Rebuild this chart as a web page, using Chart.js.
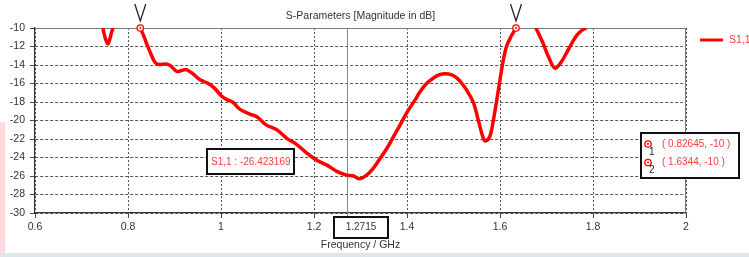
<!DOCTYPE html>
<html>
<head>
<meta charset="utf-8">
<script src="https://cdn.jsdelivr.net/npm/chart.js@4/dist/chart.umd.min.js"></script>
<style>
  html, body { margin: 0; padding: 0; background: #fff; }
  #wrap { position: relative; width: 749px; height: 257px; }
  canvas { display: block; }
</style>
</head>
<body>
<div id="wrap"><canvas id="c" width="749" height="257"></canvas></div>
<script>
// ---- data ----
const chartTitle = 'S-Parameters [Magnitude in dB]';
const xAxisTitle = 'Frequency / GHz';
const seriesName = 'S1,1';
const xTicks = [0.6, 0.8, 1, 1.2, 1.4, 1.6, 1.8, 2];
const yTicks = [-30, -28, -26, -24, -22, -20, -18, -16, -14, -12, -10];

// frequency (GHz) and |S11| (dB); null = curve above -10 dB (off the plot)
const freqGHz = [
  0.746, 0.750, 0.754, 0.757, 0.761, 0.765, 0.768,
  0.790,
  0.82645, 0.835, 0.840, 0.850, 0.858, 0.866, 0.882, 0.892, 0.905, 0.915, 0.925, 0.937,
  0.955, 0.973, 0.986, 1.001, 1.015, 1.025, 1.041, 1.062, 1.077, 1.098, 1.120, 1.141,
  1.163, 1.184, 1.206, 1.227, 1.249, 1.270, 1.285, 1.297, 1.313, 1.327, 1.342, 1.357,
  1.371, 1.385, 1.399, 1.417, 1.428, 1.442, 1.457, 1.470, 1.482, 1.495, 1.507, 1.518,
  1.528, 1.543, 1.553, 1.564, 1.569, 1.578, 1.586, 1.593, 1.600, 1.607, 1.614, 1.624,
  1.6344,
  1.655,
  1.677, 1.685, 1.693, 1.705, 1.718, 1.730, 1.743, 1.755, 1.765, 1.776, 1.786
];
const s11dB = [
  -10.0, -10.9, -11.5, -11.7, -11.2, -10.4, -10.0,
  null,
  -10.0, -11.0, -11.7, -12.9, -13.7, -13.95, -13.9, -14.1, -14.7, -14.6, -14.5, -14.85,
  -15.6, -16.0, -16.5, -17.35, -17.8, -18.0, -18.8, -19.3, -19.6, -20.5, -21.0, -21.9,
  -22.6, -23.5, -24.3, -24.8, -25.5, -25.9, -26.0, -26.3, -25.9, -25.2, -24.1, -23.0,
  -21.75, -20.5, -19.2, -17.8, -16.9, -16.0, -15.4, -15.05, -14.95, -15.05, -15.4, -16.0,
  -16.7, -18.1, -19.9, -21.9, -22.2, -21.75, -19.9, -17.8, -15.6, -13.5, -12.0, -10.9,
  -10.0,
  null,
  -10.0, -10.8, -11.7, -13.2, -14.35, -13.8, -12.7, -11.6, -10.8, -10.25, -10.0
];

const markerFreqs = [0.82645, 1.6344];
const markerVals = [-10, -10];
const markerTexts = ['( 0.82645, -10 )', '( 1.6344, -10 )'];
const cursorFreq = 1.2715;
const cursorLabel = '1.2715';
const cursorValueText = 'S1,1 : -26.423169';

const points = freqGHz.map((f, i) => ({ x: f, y: s11dB[i] }));

const FONT = '"Liberation Sans", Arial, sans-serif';
const RED = '#ff0000';
const TXT_RED = '#ff3a3a';
const GRAY_TXT = '#333';

function drawMarkerGlyph(ctx, x, y) {
  ctx.save();
  ctx.strokeStyle = RED;
  ctx.lineWidth = 1.3;
  ctx.beginPath();
  ctx.arc(x, y, 3.2, 0, Math.PI * 2);
  ctx.fillStyle = '#fff';
  ctx.fill();
  ctx.stroke();
  ctx.beginPath();
  ctx.arc(x, y, 1, 0, Math.PI * 2);
  ctx.fillStyle = RED;
  ctx.fill();
  ctx.restore();
}

function box(ctx, x, y, w, h) {
  ctx.save();
  ctx.fillStyle = '#fff';
  ctx.fillRect(x, y, w, h);
  ctx.strokeStyle = '#111';
  ctx.lineWidth = 2;
  ctx.strokeRect(x, y, w, h);
  ctx.restore();
}

const decor = {
  id: 'decor',
  beforeDraw(chart) {
    const ctx = chart.ctx;
    ctx.save();
    ctx.fillStyle = '#fff';
    ctx.fillRect(0, 0, chart.width, chart.height);
    ctx.fillStyle = '#ffd9dd';
    ctx.fillRect(0, 122, 5, 131);
    ctx.fillStyle = '#dfe5ec';
    ctx.fillRect(0, 253, chart.width, 4);
    ctx.restore();
  },
  beforeDatasetsDraw(chart) {
    const ctx = chart.ctx;
    const a = chart.chartArea;
    const xs = chart.scales.x;
    ctx.save();
    // top and right frame
    ctx.strokeStyle = '#7a7a7a';
    ctx.lineWidth = 1;
    ctx.beginPath();
    ctx.moveTo(a.left, a.top + 0.5);
    ctx.lineTo(a.right, a.top + 0.5);
    ctx.moveTo(a.right - 0.5, a.top);
    ctx.lineTo(a.right - 0.5, a.bottom);
    ctx.stroke();
    // cursor line
    const cx = Math.round(xs.getPixelForValue(cursorFreq)) + 0.5;
    ctx.strokeStyle = '#8a8a8a';
    ctx.beginPath();
    ctx.moveTo(cx, a.top);
    ctx.lineTo(cx, a.bottom + 3);
    ctx.stroke();
    ctx.restore();
  },
  afterDatasetsDraw(chart) {
    const ctx = chart.ctx;
    const a = chart.chartArea;
    const xs = chart.scales.x, ys = chart.scales.y;
    ctx.save();
    // title
    ctx.fillStyle = GRAY_TXT;
    ctx.font = '10.5px ' + FONT;
    ctx.textAlign = 'center';
    ctx.textBaseline = 'middle';
    ctx.fillText(chartTitle, (a.left + a.right) / 2, 16);
    // x axis title
    ctx.fillText(xAxisTitle, (a.left + a.right) / 2, 245);

    // markers on the curve + "V" flags
    markerFreqs.forEach((f, i) => {
      const px = xs.getPixelForValue(f);
      const py = ys.getPixelForValue(markerVals[i]);
      drawMarkerGlyph(ctx, px, py);
      ctx.strokeStyle = '#222';
      ctx.lineWidth = 1.3;
      ctx.beginPath();
      ctx.moveTo(px - 5.5, 4);
      ctx.lineTo(px, 21);
      ctx.lineTo(px + 5.5, 4);
      ctx.stroke();
    });

    // legend
    ctx.strokeStyle = RED;
    ctx.lineWidth = 3;
    ctx.beginPath();
    ctx.moveTo(700, 40);
    ctx.lineTo(723, 40);
    ctx.stroke();
    ctx.fillStyle = TXT_RED;
    ctx.font = '10.5px ' + FONT;
    ctx.textAlign = 'left';
    ctx.fillText(seriesName, 729, 40);

    // value box
    box(ctx, 207, 149, 87, 25);
    ctx.fillStyle = TXT_RED;
    ctx.font = '10px ' + FONT;
    ctx.textAlign = 'left';
    ctx.fillText(cursorValueText, 211, 162);

    // cursor box
    const cx = xs.getPixelForValue(cursorFreq);
    box(ctx, Math.round(cx) - 13, 217, 54, 21);
    ctx.fillStyle = GRAY_TXT;
    ctx.font = '10px ' + FONT;
    ctx.textAlign = 'center';
    ctx.fillText(cursorLabel, Math.round(cx) + 14, 227);

    // marker table box
    box(ctx, 641, 133, 98, 45);
    markerTexts.forEach((t, i) => {
      const y = 144 + i * 18.5;
      drawMarkerGlyph(ctx, 648, y);
      ctx.fillStyle = '#222';
      ctx.font = '10px ' + FONT;
      ctx.textAlign = 'left';
      ctx.fillText(String(i + 1), 649, y + 8);
      ctx.fillStyle = TXT_RED;
      ctx.fillText(t, 662, y);
    });
    ctx.restore();
  }
};

new Chart(document.getElementById('c'), {
  type: 'line',
  data: {
    datasets: [{
      label: seriesName,
      data: points,
      borderColor: RED,
      backgroundColor: RED,
      borderWidth: 3.5,
      pointRadius: 0,
      tension: 0.35,
      spanGaps: false,
      fill: false
    }]
  },
  options: {
    responsive: false,
    devicePixelRatio: 1,
    animation: false,
    parsing: true,
    layout: { padding: { left: 0, right: 63, top: 28, bottom: 0 } },
    plugins: { legend: { display: false }, title: { display: false }, tooltip: { enabled: false } },
    scales: {
      x: {
        type: 'linear',
        min: 0.6, max: 2,
        afterBuildTicks: s => { s.ticks = xTicks.map(v => ({ value: v })); },
        afterFit: s => { s.height = 44; },
        ticks: {
          color: GRAY_TXT,
          font: { family: FONT, size: 10.5 },
          padding: 3,
          maxRotation: 0,
          autoSkip: false,
          callback: v => String(Math.round(v * 10) / 10)
        },
        grid: { color: '#555', lineWidth: 1, tickLength: 5, tickColor: '#444' },
        border: { display: true, color: '#333', width: 1.2, dash: [2, 2] }
      },
      y: {
        type: 'linear',
        min: -30, max: -10,
        afterBuildTicks: s => { s.ticks = yTicks.map(v => ({ value: v })); },
        afterFit: s => { s.width = 35; },
        ticks: {
          color: GRAY_TXT,
          font: { family: FONT, size: 10.5 },
          padding: 5,
          autoSkip: false,
          callback: v => String(v)
        },
        grid: { color: '#555', lineWidth: 1, tickLength: 5, tickColor: '#444' },
        border: { display: true, color: '#333', width: 1.2, dash: [3, 2] }
      }
    }
  },
  plugins: [decor]
});
</script>
</body>
</html>
